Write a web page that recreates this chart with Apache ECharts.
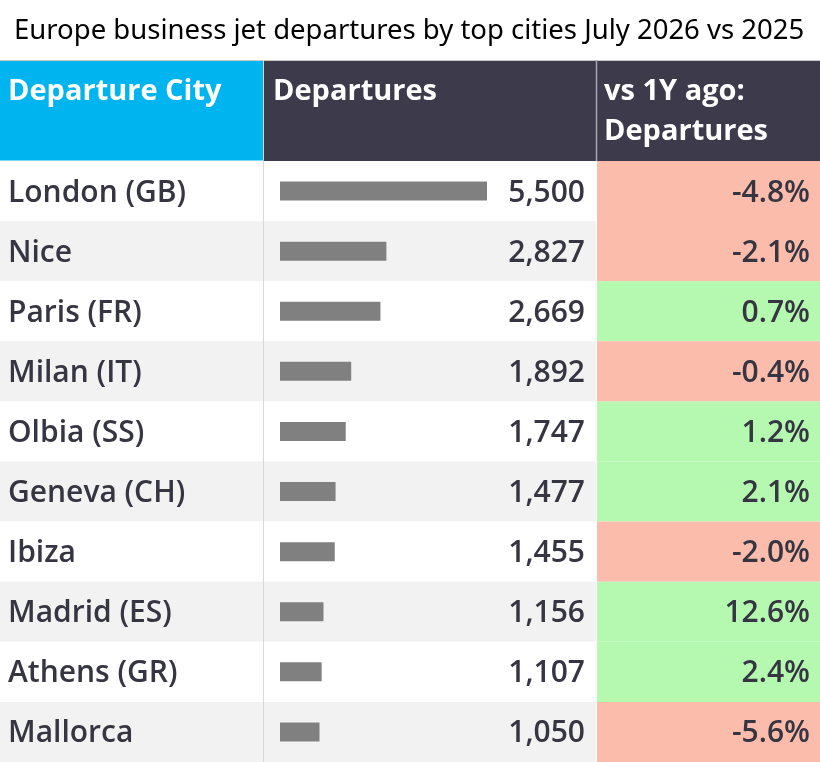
<!DOCTYPE html>
<html><head><meta charset="utf-8">
<script src="https://cdn.jsdelivr.net/npm/echarts@6/dist/echarts.min.js"></script>
<style>html,body{margin:0;padding:0;background:#fff}#c{width:820px;height:762px}</style>
</head><body><div id="c"></div>
<script>
const cities = ['London (GB)','Nice','Paris (FR)','Milan (IT)','Olbia (SS)','Geneva (CH)','Ibiza','Madrid (ES)','Athens (GR)','Mallorca'];
const departures = [5500,2827,2669,1892,1747,1477,1455,1156,1107,1050];
const changePct = [-4.8,-2.1,0.7,-0.4,1.2,2.1,-2.0,12.6,2.4,-5.6];
const titleText = 'Europe business jet departures by top cities July 2026 vs 2025';
const headers = ['Departure City','Departures','vs 1Y ago:\nDepartures'];

const FONT = '"Open Sans", "Noto Sans", sans-serif';
const TXT = '#363542';
const chart = echarts.init(document.getElementById('c'), null, {renderer:'canvas'});
const fmt = v => v.toLocaleString('en-US');
const TOP = 161, H = 601;

function cellRender(params, api){
  const idx = api.value(0);
  const cs = params.coordSys;
  const yc = api.coord([0, idx])[1];
  const bh = api.size([0, 1])[1];
  const y0 = yc - bh/2;
  const pct = changePct[idx];
  const ty = yc + 2;
  const children = [];
  children.push({type:'rect', shape:{x:cs.x, y:y0, width:596, height:bh}, style:{fill: idx%2 ? '#f2f2f2' : '#ffffff'}});
  children.push({type:'rect', shape:{x:cs.x+597, y:y0, width:cs.width-597, height:bh}, style:{fill: pct < 0 ? '#fbbcab' : '#b5f9b0'}});
  children.push({type:'text', style:{x:cs.x+8, y:ty, text:cities[idx], fill:TXT, font:'600 30px '+FONT, textAlign:'left', textVerticalAlign:'middle'}});
  children.push({type:'text', style:{x:cs.x+585, y:ty, text:fmt(departures[idx]), fill:TXT, font:'600 30px '+FONT, textAlign:'right', textVerticalAlign:'middle'}});
  children.push({type:'text', style:{x:cs.x+810, y:ty, text:pct.toFixed(1)+'%', fill:TXT, font:'600 30px '+FONT, textAlign:'right', textVerticalAlign:'middle'}});
  return {type:'group', children};
}

const option = {
  animation:false,
  title:{text:titleText, left:9, top:12, textStyle:{fontFamily:'"Noto Sans", sans-serif', fontWeight:'normal', fontSize:27.5, color:'#000'}},
  grid:[
    {left:0, width:820, top:TOP, height:H},
    {left:280, width:207, top:TOP, height:H}
  ],
  xAxis:[
    {gridIndex:0, type:'value', min:0, max:1, show:false},
    {gridIndex:1, type:'value', min:0, max:5500, show:false}
  ],
  yAxis:[
    {gridIndex:0, type:'category', data:cities, inverse:true, show:false},
    {gridIndex:1, type:'category', data:cities, inverse:true, show:false}
  ],
  series:[
    {type:'custom', xAxisIndex:0, yAxisIndex:0, z:1, renderItem:cellRender,
     data:cities.map((c,i)=>[i]), encode:{y:0}},
    {type:'bar', xAxisIndex:1, yAxisIndex:1, z:5, data:departures, barWidth:19,
     itemStyle:{color:'#808080'}, silent:true}
  ],
  graphic:[
    {type:'rect', shape:{x:0,y:60,width:264,height:101}, style:{fill:'#00b4ef'}, z:10},
    {type:'rect', shape:{x:264,y:60,width:556,height:101}, style:{fill:'#3d3a4b'}, z:10},
    {type:'line', shape:{x1:0,y1:60.5,x2:820,y2:60.5}, style:{stroke:'#c8c8cc', lineWidth:1}, z:11},
    {type:'line', shape:{x1:263.5,y1:60,x2:263.5,y2:762}, style:{stroke:'#d8d8d8', lineWidth:1}, z:11},
    {type:'line', shape:{x1:596.5,y1:60,x2:596.5,y2:161}, style:{stroke:'#a9a8b2', lineWidth:1.5}, z:11},
    {type:'line', shape:{x1:0,y1:160.5,x2:264,y2:160.5}, style:{stroke:'#7fd6f5', lineWidth:1}, z:11},
    {type:'text', style:{x:8, y:92, text:headers[0], fill:'#ffffff', font:'bold 29px '+FONT, textVerticalAlign:'middle'}, z:12},
    {type:'text', style:{x:273, y:92, text:headers[1], fill:'#ffffff', font:'bold 29px '+FONT, textVerticalAlign:'middle'}, z:12},
    {type:'text', style:{x:604, y:72, text:headers[2], fill:'#ffffff', font:'bold 29px '+FONT, lineHeight:40, textVerticalAlign:'top'}, z:12},
    // sort icon
    {type:'group', z:12, children:[
      {type:'line', shape:{x1:562,y1:75,x2:562,y2:94}, style:{stroke:'#5c5a6b', lineWidth:2}},
      {type:'polyline', shape:{points:[[558,89],[562,95],[566,89]]}, style:{stroke:'#5c5a6b', lineWidth:2, fill:null}},
      {type:'line', shape:{x1:567,y1:76,x2:585,y2:76}, style:{stroke:'#5c5a6b', lineWidth:2}},
      {type:'line', shape:{x1:569,y1:82,x2:583,y2:82}, style:{stroke:'#5c5a6b', lineWidth:2}},
      {type:'line', shape:{x1:571,y1:88,x2:581,y2:88}, style:{stroke:'#5c5a6b', lineWidth:2}},
      {type:'line', shape:{x1:573,y1:94,x2:579,y2:94}, style:{stroke:'#5c5a6b', lineWidth:2}}
    ]}
  ]
};
chart.setOption(option);
</script></body></html>
